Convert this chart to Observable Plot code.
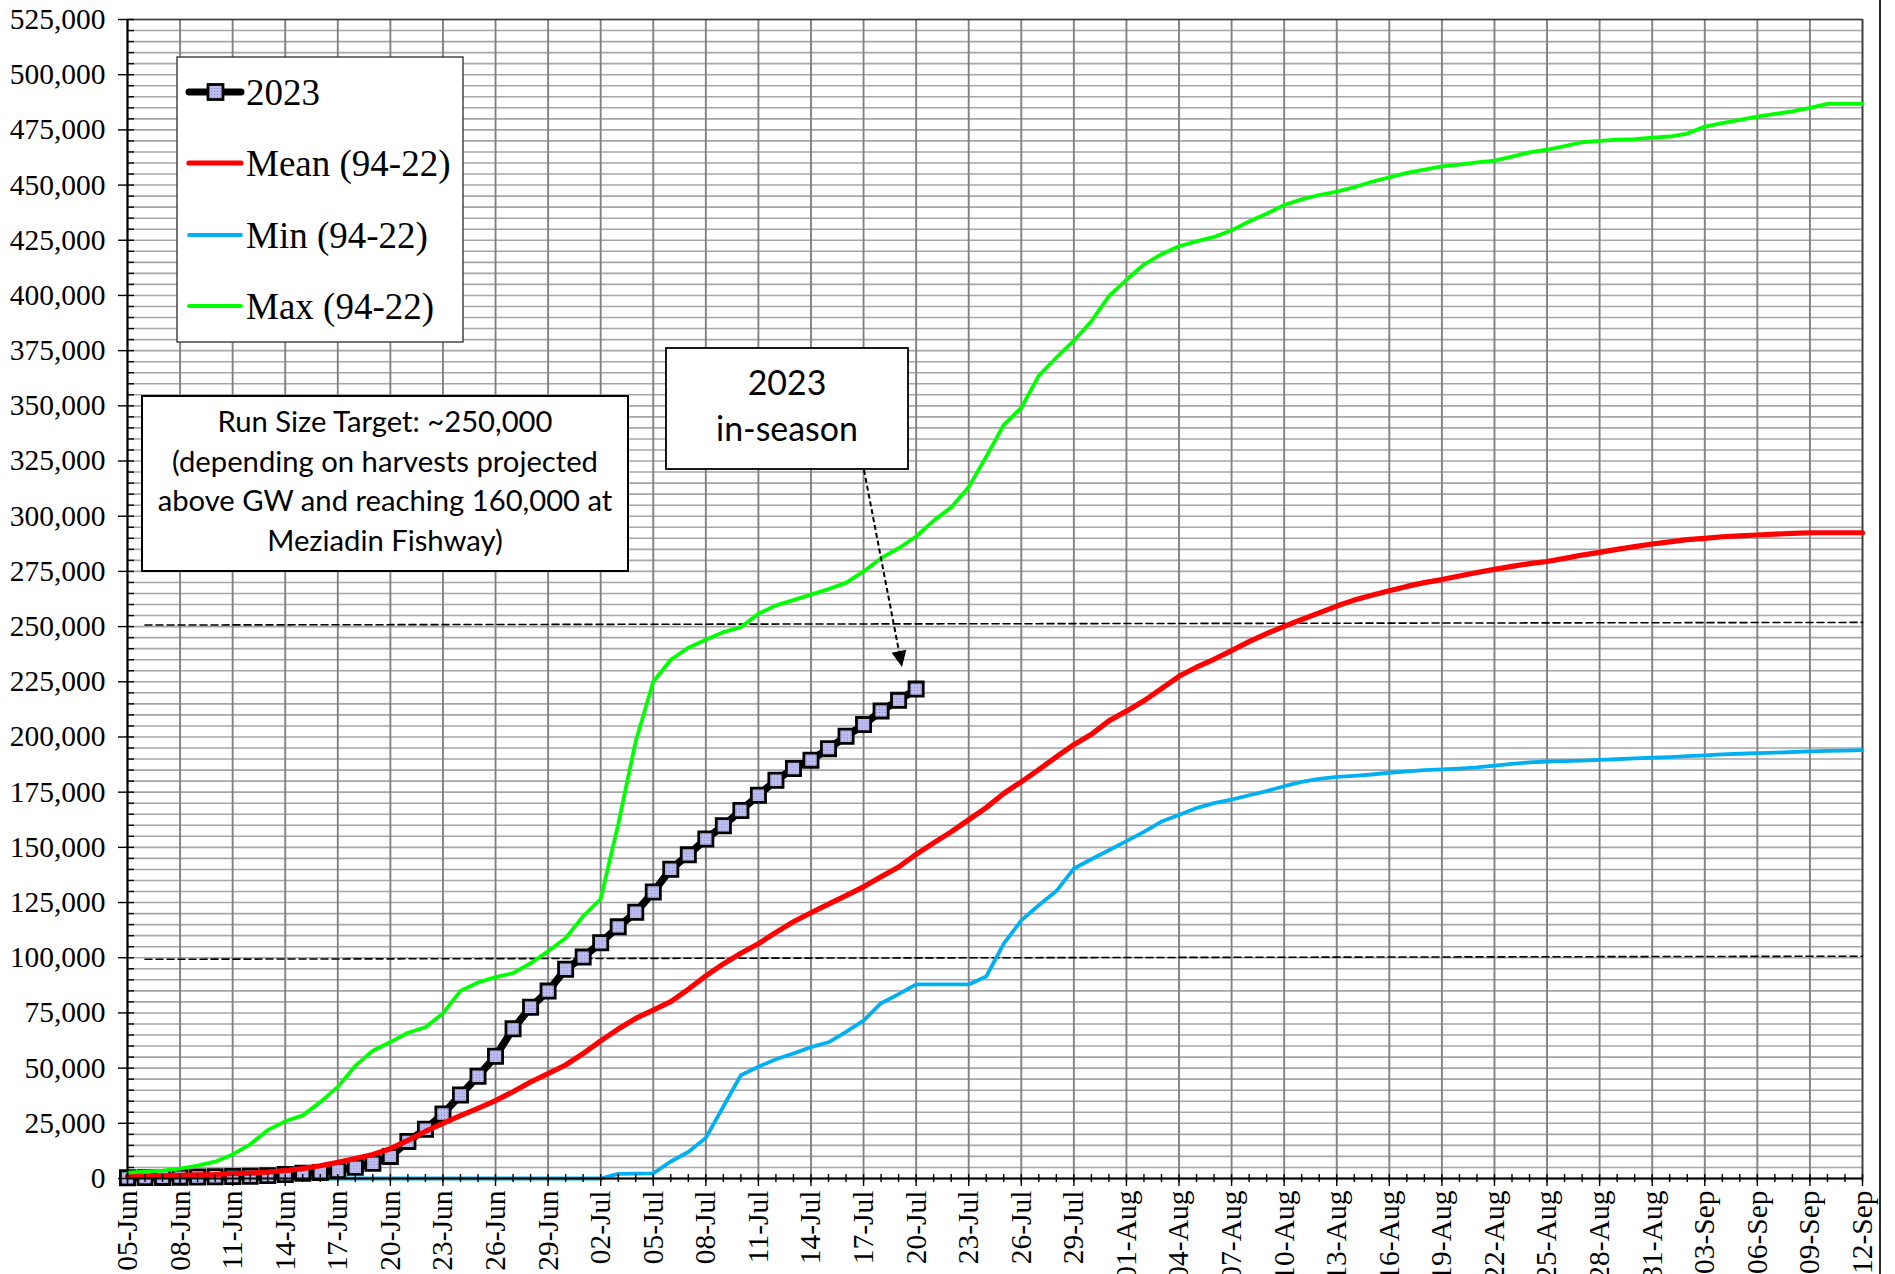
<!DOCTYPE html>
<html><head><meta charset="utf-8">
<script src="https://cdn.jsdelivr.net/npm/d3@7"></script>
<script src="https://cdn.jsdelivr.net/npm/@observablehq/plot@0.6"></script>
<style>
html,body{margin:0;padding:0;background:#fff;}
#chart{position:relative;width:1895px;height:1274px;overflow:hidden;background:#fff;}
</style></head><body><div id="chart"></div>
<script>
// ---------------- DATA ----------------
const seasonStart = [2023, 5, 5];   // 05-Jun-2023 (UTC, month 0-based)
const seasonDays = 100;             // 05-Jun .. 12-Sep

const values2023 = [300,400,500,600,700,800,900,1000,1300,1800,
  2400,2700,3600,5100,6900,10000,16800,22300,29200,37800,
  46300,55400,67800,77600,84900,94800,100300,106800,114000,120600,
  129800,140100,146600,153800,159800,166700,173600,180400,185700,189500,
  194700,200300,205600,211800,216600,221700];

const meanValues = [1000,1100,1200,1400,1600,1800,2200,2400,2900,3600,
  4500,5800,7300,9100,10900,13500,17300,21300,25000,28500,
  31800,35300,39300,43700,47500,51400,56600,62300,67700,72500,
  76300,80100,85700,91800,97200,102000,106300,111500,116300,120400,
  124300,128100,132100,136700,141100,146800,152000,157000,162500,168000,
  174400,179700,185200,191000,196500,201200,207300,211700,216400,221900,
  227500,231600,235200,239100,243200,246800,250100,253200,256200,259300,
  262000,264200,266200,268200,269900,271300,272900,274500,275900,277300,
  278500,279500,280900,282400,283600,285000,286200,287400,288400,289400,
  290000,290700,291100,291500,291900,292200,292500,292500,292500,292500];

const minValues = [0,0,0,0,0,0,0,0,0,0,
  0,0,0,0,0,0,0,0,0,0,
  0,0,0,0,0,0,0,0,2100,2200,
  2300,7700,12000,18400,32600,46800,50600,54000,56600,59500,
  61700,66400,71500,79400,83500,87900,87900,87900,87900,91500,
  106400,116900,123800,130200,140400,144600,148700,152800,157000,161700,
  164700,167800,170000,171600,173600,175500,177700,179700,181000,181900,
  182400,183000,183800,184400,185000,185300,185700,186200,187000,187800,
  188500,188900,189100,189300,189600,189900,190300,190600,190900,191300,
  191700,192100,192400,192700,192900,193200,193500,193700,193800,194000];

const maxValues = [2700,3100,3600,4500,5800,7600,10900,15500,21900,25900,
  28600,34600,41500,51000,57900,61800,66000,68500,74800,85000,
  88800,91200,93000,97500,102900,108900,118800,126600,160400,198100,
  225000,235000,240400,244000,247500,249700,255800,259600,262000,264500,
  267000,269800,275000,281000,285500,290800,298000,304000,313200,327000,
  341400,349100,363700,371800,379500,388300,399700,407100,414000,418700,
  422300,424500,426500,429500,433500,437000,441000,443500,445500,447000,
  449000,451500,453500,455500,457000,458500,459300,460300,461100,462900,
  464800,466000,467600,469400,470000,470600,470800,471500,472000,473300,
  476500,478100,479500,481000,482200,483400,485000,486800,486800,486800];

const seriesNames = ["2023", "Mean (94-22)", "Min (94-22)", "Max (94-22)"];
const seriesColors = ["#000000", "#ff0000", "#00b0f0", "#00ff00"];

// reference (dashed) lines: start day index, end day index, value at start, value at end
const refLineNames = ["Run size target", "Lower reference"];
const refLineStartDay = [1, 1];
const refLineEndDay = [99, 99];
const refLineStartValue = [250700, 99300];
const refLineEndValue = [251900, 100700];

const runSizeText = ["Run Size Target: ~250,000", "(depending on harvests projected",
  "above GW and reaching 160,000 at", "Meziadin Fishway)"];
const inSeasonText = ["2023", "in-season"];

const yMax = 525000, yMajorStep = 25000, yMinorStep = 5000, xTickEvery = 3;

// ---------------- BUILD ----------------
const day0 = new Date(Date.UTC(...seasonStart));
const days = d3.range(seasonDays).map(i => d3.utcDay.offset(day0, i));
const majorDays = days.filter((d, i) => i % xTickEvery === 0);
const fmt = d3.utcFormat("%d-%b");

const rows = (vals) => vals.map((v, i) => ({date: days[i], value: v}));
const d2023 = rows(values2023), dMean = rows(meanValues), dMin = rows(minValues), dMax = rows(maxValues);
const refRows = refLineNames.flatMap((n, k) => [
  {name: n, date: days[refLineStartDay[k]], value: refLineStartValue[k]},
  {name: n, date: days[refLineEndDay[k]], value: refLineEndValue[k]}]);

const W = 1895, H = 1274, mL = 127, mR = 33, mT = 19, mB = 96;
const plotW = W - mL - mR, plotH = H - mT - mB;
const serif = "'Liberation Serif', 'Times New Roman', serif";
const tickFont = 29.5;

const chart = Plot.plot({
  width: W, height: H,
  marginLeft: mL, marginRight: mR, marginTop: mT, marginBottom: mB,
  style: {fontFamily: serif, fontSize: tickFont + "px", color: "black", background: "white", overflow: "visible"},
  x: {type: "utc", domain: [days[0], days[seasonDays - 1]]},
  y: {domain: [0, yMax], nice: false},
  marks: [
    Plot.gridY(d3.range(yMinorStep, yMax + 1, yMinorStep), {stroke: "#a6a6a6", strokeOpacity: 1, strokeWidth: 1.6}),
    Plot.gridX(majorDays, {stroke: "#828282", strokeOpacity: 1, strokeWidth: 1.9}),
    Plot.frame({stroke: "#3a3a3a", strokeWidth: 1.5}),
    Plot.line(refRows, {x: "date", y: "value", z: "name", stroke: "black", strokeWidth: 1.6, strokeDasharray: "7,4"}),
    Plot.line(dMin, {x: "date", y: "value", stroke: seriesColors[2], strokeWidth: 3.8}),
    Plot.line(d2023, {x: "date", y: "value", stroke: seriesColors[0], strokeWidth: 7.5, strokeLinejoin: "round"}),
    Plot.dot(d2023, {x: "date", y: "value", symbol: "square", r: 8, fill: "url(#sqpat)", stroke: "black", strokeWidth: 2.8}),
    Plot.line(dMean, {x: "date", y: "value", stroke: seriesColors[1], strokeWidth: 5.2}),
    Plot.line(dMax, {x: "date", y: "value", stroke: seriesColors[3], strokeWidth: 3.8}),
    // minor ticks
    Plot.ruleY(d3.range(yMinorStep, yMax + 1, yMinorStep), {stroke: "black", strokeWidth: 1.4, insetRight: plotW - 7}),
    Plot.ruleX(days, {stroke: "black", strokeWidth: 1.4, insetTop: plotH - 4, insetBottom: -4}),
    // axes
    Plot.ruleY([0], {stroke: "black", strokeWidth: 1.8}),
    Plot.ruleX([days[0]], {stroke: "black", strokeWidth: 1.8}),
    Plot.axisY(d3.range(0, yMax + 1, yMajorStep), {tickSize: 9, tickPadding: 13, tickFormat: d3.format(","), fontSize: tickFont, label: null, strokeWidth: 1.4}),
    Plot.axisX(majorDays, {tickSize: 8, tickPadding: 4, tickRotate: -90, tickFormat: fmt, fontSize: tickFont, label: null, strokeWidth: 1.4})
  ]
});
document.getElementById("chart").appendChild(chart);

const svg = d3.select(chart);
// marker fill pattern (lavender with fine dots)
const defs = svg.insert("defs", ":first-child");
const pat = defs.append("pattern").attr("id", "sqpat").attr("width", 3).attr("height", 3).attr("patternUnits", "userSpaceOnUse");
pat.append("rect").attr("width", 3).attr("height", 3).attr("fill", "#bcbcf2");
pat.append("rect").attr("x", 1).attr("y", 1).attr("width", 1).attr("height", 1).attr("fill", "#8a8ab0");

// outer chart border on the right
svg.append("line").attr("x1", 1880).attr("x2", 1880).attr("y1", 0).attr("y2", H).attr("stroke", "#2a2a2a").attr("stroke-width", 2);

// legend
const lg = svg.append("g").attr("text-anchor", "start");
lg.append("rect").attr("x", 177).attr("y", 57).attr("width", 286).attr("height", 285)
  .attr("fill", "white").attr("stroke", "#3a3a3a").attr("stroke-width", 1.4);
const legendY = [92, 163, 235, 306];
const legendW = [7, 5.2, 3.8, 3.8];
seriesNames.forEach((name, i) => {
  lg.append("line").attr("x1", 189).attr("x2", 241).attr("y1", legendY[i]).attr("y2", legendY[i])
    .attr("stroke", seriesColors[i]).attr("stroke-width", legendW[i]).attr("stroke-linecap", "round");
  if (i === 0) lg.append("rect").attr("x", 208).attr("y", legendY[i] - 7.5).attr("width", 15).attr("height", 15)
    .attr("fill", "url(#sqpat)").attr("stroke", "black").attr("stroke-width", 2.8);
  lg.append("text").attr("x", 246).attr("y", legendY[i]).attr("dominant-baseline", "central")
    .attr("text-anchor", "start")
    .attr("font-family", serif).attr("font-size", 37).attr("fill", "black").text(name);
});

// text boxes
const sans = "Lato, 'Open Sans', sans-serif";
function textBox(x, y, w, h, lines, lineYs, targetIdx, targetW, sw) {
  const g = svg.append("g");
  g.append("rect").attr("x", x).attr("y", y).attr("width", w).attr("height", h)
    .attr("fill", "white").attr("stroke", "black").attr("stroke-width", sw);
  const ts = lines.map((t, i) => g.append("text").attr("x", x + w / 2).attr("y", lineYs[i])
    .attr("text-anchor", "middle").attr("dominant-baseline", "central")
    .attr("font-family", sans).attr("font-size", 30).attr("fill", "black").text(t));
  const len = ts[targetIdx].node().getComputedTextLength();
  const fs = 30 * targetW / len;
  ts.forEach(t => t.attr("font-size", fs));
}
textBox(142, 396, 486, 175, runSizeText, [420, 460, 499, 539], 2, 455, 2);
textBox(666, 348, 242, 121, inSeasonText, [382, 428], 1, 142, 1.8);

// arrow
const ax0 = 864, ay0 = 470, ax1 = 902, ay1 = 667;
const L = Math.hypot(ax1 - ax0, ay1 - ay0), ux = (ax1 - ax0) / L, uy = (ay1 - ay0) / L;
const hl = 16, hw = 7.5;
const bx = ax1 - ux * hl, by = ay1 - uy * hl;
svg.append("line").attr("x1", ax0).attr("y1", ay0).attr("x2", bx).attr("y2", by)
  .attr("stroke", "black").attr("stroke-width", 2).attr("stroke-dasharray", "5,3");
svg.append("path").attr("d", `M${ax1},${ay1}L${bx - uy * hw},${by + ux * hw}L${bx + uy * hw},${by - ux * hw}Z`).attr("fill", "black");
</script></body></html>
